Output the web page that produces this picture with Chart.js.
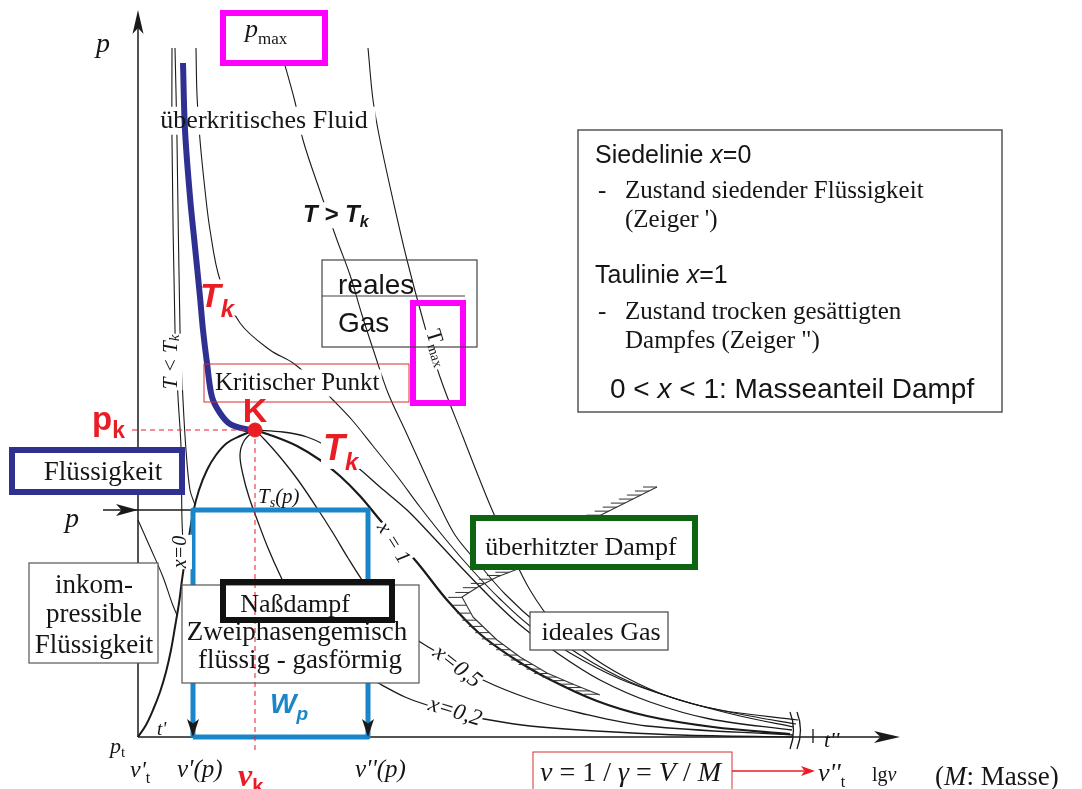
<!DOCTYPE html>
<html><head><meta charset="utf-8">
<script src="https://cdn.jsdelivr.net/npm/chart.js@4.4.1/dist/chart.umd.min.js"></script>
<style>html,body{margin:0;padding:0;background:#fff}#wrap{width:1082px;height:789px;position:relative}</style>
</head><body><div id="wrap"><canvas id="c"></canvas></div>
<script>
// ---- Data (v, p) in diagram units; origin = triple point (v't, pt) ----
const achseP = [[0,0],[0,714]];
const achseV = [[0,0],[750,0]];
const siedelinie = [[0,0],[8,12],[15,27],[22,45],[28,65],[33,87],[37,110],[41,134],[44,157],[47,177],[51,200],[55,224],[61,247],[69,267],[78,282],[89,294],[102,301],[117,307]];
const taulinie = [[117,307],[135,301],[159,291],[182,277],[202,261],[222,241],[242,217],[262,194],[282,171],[309,137],[342,103],[375,79],[409,59],[459,36],[509,21],[575,10],[652,3]];
const kritIsoLinks = [[45,674],[47,607],[52,540],[57,490],[62,440],[65,407],[69,374],[74,340],[82,324],[92,313],[107,308],[117,307]];
const kritIsoRechts = [[117,307],[145,305],[169,300],[192,289],[219,270],[242,250],[269,227],[295,200],[322,171],[352,140],[382,112],[422,82],[462,57],[512,35],[572,18],[654,7]];
const isoT2 = [[58,689],[59,642],[62,597],[67,547],[72,507],[82,457],[102,414],[132,387],[155,374],[177,355],[195,337],[214,317],[235,291],[259,261],[282,230],[309,196],[335,166],[362,138],[392,111],[432,84],[482,58],[542,37],[602,21],[656,10]];
const isoT3 = [[142,689],[157,635],[165,597],[184,540],[199,497],[212,462],[224,422],[237,382],[250,344],[267,307],[282,274],[299,237],[317,202],[340,174],[367,143],[402,111],[442,82],[492,55],[552,34],[612,21],[658,13]];
const isoTmax = [[230,689],[235,637],[242,597],[255,537],[269,477],[285,417],[302,360],[325,300],[352,232],[372,187],[392,147],[417,112],[447,85],[487,60],[532,40],[582,27],[660,17]];
const fluessig1 = [[34,689],[34,597],[37,407],[40,340],[43,290],[44,217],[46,175]];
const fluessig2 = [[37,689],[39,597],[42,407],[45,337],[48,287],[52,247],[57,232]];
const fluessig3 = [[0,217],[12,190],[25,160],[34,134],[39,122]];
const dampfX02 = [[117,307],[106,296],[102,282],[105,262],[111,240],[120,215],[130,189],[142,162],[162,122],[192,87],[222,65],[242,53],[267,40],[289,32],[317,24],[352,17],[392,11],[442,7],[542,2],[655,0]];
const dampfX05 = [[117,307],[127,297],[142,280],[160,257],[179,229],[195,204],[210,179],[224,157],[247,125],[272,102],[292,89],[317,74],[345,57],[392,38],[442,24],[509,11],[655,2]];
const idealGrenze = [[519,250],[489,235],[459,220],[422,195],[385,170],[359,160],[340,150],[324,140],[335,120],[359,97],[382,80],[409,64],[437,52],[462,42]];
const arbeitWp = [[55,0],[55,227],[230,227],[230,0],[55,0]];
const druckLinie = [[-35,227],[55,227]];
const pkStrich = [[-6,307],[117,307]];
const vkStrich = [[117,307],[117,-13]];
const kritPunkt = [[117,307]];
const formelPfeil = [[594,-34],[666,-34]];

// ---- styles ----
const RED = '#ea1d25', NAVY = '#2e3192', LBLUE = '#1a86c8', GREEN = '#0f6414', MAG = '#ff00ff', INK = '#1a1a1a';
const SER = '"Liberation Serif","Times New Roman",serif';
const SAN = '"Liberation Sans",Arial,sans-serif';
const N = (f,s) => `${s}px ${f}`, I = (f,s) => `italic ${s}px ${f}`, B = (f,s) => `bold ${s}px ${f}`, BI = (f,s) => `italic bold ${s}px ${f}`;

// ---- boxes: [x1,y1,x2,y2] in diagram units ----
const kaesten = [
  {r:[85,674,187,724], c:MAG, w:6, fill:true},
  {r:[275,334,325,434], c:MAG, w:6},
  {r:[184,390,339,477], c:'#444', w:1.2, inner:[184,441,327]},
  {r:[66,335,271,373], c:'#d83030', w:1},
  {r:[440,325,864,607], c:'#555', w:1.5, fill:true},
  {r:[-126,245,44,287], c:NAVY, w:6, fill:true},
  {r:[-109,74,20,174], c:'#555', w:1.2, fill:true},
  {r:[44,54,281,152], c:'#555', w:1.2, fill:true},
  {r:[85,117,254,155], c:'#111', w:6, fill:true},
  {r:[335,170,557,219], c:GREEN, w:6, fill:true},
  {r:[392,87,530,125], c:'#444', w:1.2, fill:true},
  {r:[395,-60,594,-15], c:'#d83030', w:1, fill:true}
];

// ---- labels ----
const beschriftungen = [
  {at:[-35,685], align:'center', run:[['p',I(SER,28)]]},
  {at:[107,700], run:[['p',I(SER,26)],['max',N(SER,17),7]]},
  {at:[126,609], align:'center', bg:8, run:[['überkritisches Fluid',N(SER,26)]]},
  {at:[165,515], bg:3, run:[['T > T',BI(SAN,24)],['k',BI(SAN,16),5]]},
  {at:[200,443], run:[['reales',N(SAN,28)]]},
  {at:[200,405], run:[['Gas',N(SAN,28)]]},
  {at:[299,389], rot:73, mid:true, align:'center', bg:2, run:[['T',N(SER,22)],['max',N(SER,14),5]]},
  {at:[457,574], run:[['Siedelinie ',N(SAN,25)],['x',I(SAN,25)],['=0',N(SAN,25)]]},
  {at:[460,539], run:[['-',N(SER,25)]]},
  {at:[487,539], run:[['Zustand siedender Flüssigkeit',N(SER,25)]]},
  {at:[487,510], run:[["(Zeiger ')",N(SER,25)]]},
  {at:[457,454], run:[['Taulinie ',N(SAN,25)],['x',I(SAN,25)],['=1',N(SAN,25)]]},
  {at:[460,418], run:[['-',N(SER,25)]]},
  {at:[487,418], run:[['Zustand trocken gesättigten',N(SER,25)]]},
  {at:[487,389], run:[['Dampfes (Zeiger ")',N(SER,25)]]},
  {at:[472,339], run:[['0 < ',N(SAN,28)],['x',I(SAN,28)],[' < 1: Masseanteil Dampf',N(SAN,28)]]},
  {at:[77,347], bg:2, run:[['Kritischer Punkt',N(SER,25)]]},
  {at:[117,315], align:'center', run:[['K',B(SAN,34),0,RED]]},
  {at:[-46,307], run:[['p',B(SAN,33),0,RED],['k',B(SAN,23),8,RED]]},
  {at:[62,430], bg:2, run:[['T',BI(SAN,34),0,RED],['k',BI(SAN,24),10,RED]]},
  {at:[185,277], bg:2, run:[['T',BI(SAN,36),0,RED],['k',BI(SAN,24),10,RED]]},
  {at:[33,375], rot:-90, mid:true, align:'center', bg:1, run:[['T < T',I(SER,21)],['k',I(SER,15),4]]},
  {at:[43,185], rot:-90, mid:true, align:'center', bg:1, run:[['x=0',I(SER,20)]]},
  {at:[120,234], run:[['T',I(SER,21)],['s',I(SER,14),4],['(p)',I(SER,21)]]},
  {at:[255,194], rot:58, mid:true, align:'center', bg:1, run:[['x = 1',I(SER,21)]]},
  {at:[319,70], rot:38, mid:true, align:'center', bg:1, run:[['x=0,5',I(SER,23)]]},
  {at:[317,25], rot:17, mid:true, align:'center', bg:1, run:[['x=0,2',I(SER,23)]]},
  {at:[-35,257], align:'center', run:[['Flüssigkeit',N(SER,27)]]},
  {at:[-66,210], align:'center', run:[['p',I(SER,28)]]},
  {at:[-44,144], align:'center', run:[['inkom-',N(SER,27)]]},
  {at:[-44,115], align:'center', run:[['pressible',N(SER,27)]]},
  {at:[-44,84], align:'center', run:[['Flüssigkeit',N(SER,27)]]},
  {at:[157,125], align:'center', run:[['Naßdampf',N(SER,26)]]},
  {at:[159,97], align:'center', run:[['Zweiphasengemisch',N(SER,27)]]},
  {at:[162,69], align:'center', run:[['flüssig - gasförmig',N(SER,27)]]},
  {at:[132,24], run:[['W',BI(SAN,28),0,LBLUE],['p',BI(SAN,19),7,LBLUE]]},
  {at:[443,182], align:'center', run:[['überhitzter Dampf',N(SER,26)]]},
  {at:[463,97], align:'center', run:[['ideales Gas',N(SER,26)]]},
  {at:[19,2], run:[["t'",I(SER,19)]]},
  {at:[686,-10], run:[["t''",I(SER,22)]]},
  {at:[-28,-16], run:[['p',I(SER,22)],['t',N(SER,15),4]]},
  {at:[-8,-40], run:[["v'",I(SER,24)],['t',N(SER,16),6]]},
  {at:[39,-40], run:[["v'(p)",I(SER,25)]]},
  {at:[100,-49], run:[['v',BI(SER,32),0,RED],['k',B(SAN,20),7,RED]]},
  {at:[217,-40], run:[["v''(p)",I(SER,25)]]},
  {at:[402,-44], run:[['v',I(SER,28)],[' = 1 / ',N(SER,28)],['γ',I(SER,28)],[' = ',N(SER,28)],['V',I(SER,28)],[' / ',N(SER,28)],['M',I(SER,28)]]},
  {at:[680,-44], run:[["v''",I(SER,26)],['t',N(SER,16),6]]},
  {at:[734,-44], run:[['lg',N(SER,20)],['v',I(SER,20)]]},
  {at:[797,-48], run:[['(',N(SER,27)],['M',I(SER,27)],[': Masse)',N(SER,27)]]}
];

const xy = a => a.map(([x,y]) => ({x, y}));
function linie(arr, color, width, order, extra) {
  return Object.assign({data: xy(arr), showLine: true, borderColor: color, backgroundColor: color,
    borderWidth: width, pointRadius: 0, tension: 0.35, fill: false, order: order}, extra || {});
}

function drawLabel(ctx, chart, L, mode) {
  const px = chart.scales.x.getPixelForValue(L.at[0]);
  const py = chart.scales.y.getPixelForValue(L.at[1]);
  ctx.save();
  ctx.translate(px, py);
  if (L.rot) ctx.rotate(L.rot * Math.PI / 180);
  ctx.textBaseline = L.mid ? 'middle' : 'alphabetic';
  let w = 0;
  for (const r of L.run) { ctx.font = r[1]; w += ctx.measureText(r[0]).width; }
  let x = L.align === 'center' ? -w / 2 : (L.align === 'right' ? -w : 0);
  const size = parseFloat(L.run[0][1].match(/(\d+(\.\d+)?)px/)[1]);
  if (mode === 'bg') {
    if (L.bg) {
      ctx.fillStyle = '#fff';
      const top = L.mid ? -size * 0.5 : -size * 0.78;
      ctx.fillRect(x - L.bg, top - 1, w + 2 * L.bg, size + 2);
    }
  } else {
    for (const r of L.run) {
      ctx.font = r[1];
      ctx.fillStyle = r[3] || '#151515';
      ctx.fillText(r[0], x, r[2] || 0);
      x += ctx.measureText(r[0]).width;
    }
  }
  ctx.restore();
}

function rectPx(chart, r) {
  const X = v => chart.scales.x.getPixelForValue(v), Y = p => chart.scales.y.getPixelForValue(p);
  const x1 = X(r[0]), x2 = X(r[2]), y1 = Y(r[3]), y2 = Y(r[1]);
  return [x1, y1, x2 - x1, y2 - y1];
}

function arrow(ctx, tx, ty, dir, len, hw, color) {
  ctx.save();
  ctx.translate(tx, ty);
  ctx.rotate(dir);
  ctx.fillStyle = color;
  ctx.beginPath();
  ctx.moveTo(0, 0);
  ctx.lineTo(-len, -hw);
  ctx.lineTo(-len * 0.75, 0);
  ctx.lineTo(-len, hw);
  ctx.closePath();
  ctx.fill();
  ctx.restore();
}

function drawMasks(chart) {
  const ctx = chart.ctx;
  const idx = chart.data.datasets.findIndex(d => d.hatch);
  const pts = chart.getDatasetMeta(idx).data;
  ctx.save();
  ctx.strokeStyle = '#333'; ctx.lineWidth = 1;
  let carry = 0;
  for (let i = 0; i < pts.length - 1; i++) {
    const a = pts[i], b = pts[i + 1];
    const L = Math.hypot(b.x - a.x, b.y - a.y);
    let s = carry;
    while (s < L) {
      const t = s / L, x = a.x + (b.x - a.x) * t, y = a.y + (b.y - a.y) * t;
      ctx.beginPath(); ctx.moveTo(x, y); ctx.lineTo(x - 14, y); ctx.stroke();
      s += 9;
    }
    carry = s - L;
  }
  ctx.restore();
  ctx.save();
  ctx.fillStyle = '#fff';
  for (const k of kaesten) if (k.fill) { const [x, y, w, h] = rectPx(chart, k.r); ctx.fillRect(x, y, w, h); }
  ctx.restore();
  for (const L of beschriftungen) drawLabel(ctx, chart, L, 'bg');
}

function drawOverlay(chart) {
  const ctx = chart.ctx;
  const X = v => chart.scales.x.getPixelForValue(v), Y = p => chart.scales.y.getPixelForValue(p);
  ctx.save();
  for (const k of kaesten) {
    const [x, y, w, h] = rectPx(chart, k.r);
    ctx.strokeStyle = k.c; ctx.lineWidth = k.w;
    ctx.strokeRect(x, y, w, h);
    if (k.inner) {
      ctx.lineWidth = 1.2;
      ctx.beginPath(); ctx.moveTo(X(k.inner[0]), Y(k.inner[1])); ctx.lineTo(X(k.inner[2]), Y(k.inner[1])); ctx.stroke();
    }
  }
  ctx.restore();
  for (const L of beschriftungen) drawLabel(ctx, chart, L, 'fg');
  arrow(ctx, X(0), Y(727), -Math.PI / 2, 24, 5.5, INK);
  arrow(ctx, X(762), Y(0), 0, 26, 6, INK);
  arrow(ctx, X(0), Y(227), 0, 22, 6, INK);
  arrow(ctx, X(55), Y(0), Math.PI / 2, 18, 6, INK);
  arrow(ctx, X(230), Y(0), Math.PI / 2, 18, 6, INK);
  arrow(ctx, X(677), Y(-34), 0, 14, 5, RED);
  ctx.save();
  ctx.strokeStyle = INK; ctx.lineWidth = 1.3;
  for (const bx of [654, 661]) {
    ctx.beginPath();
    ctx.moveTo(X(bx - 2), Y(25));
    ctx.quadraticCurveTo(X(bx + 5), Y(7), X(bx - 2), Y(-12));
    ctx.stroke();
  }
  ctx.beginPath(); ctx.moveTo(X(675), Y(8)); ctx.lineTo(X(675), Y(-6)); ctx.stroke();
  ctx.restore();
}

const diagrammPlugin = {
  id: 'diagramm',
  beforeDatasetsDraw(chart) { chart.$masked = false; },
  beforeDatasetDraw(chart, args) {
    const ds = chart.data.datasets[args.index];
    if (ds.layer === 'top' && !chart.$masked) { chart.$masked = true; drawMasks(chart); }
  },
  afterDatasetsDraw(chart) { drawOverlay(chart); }
};

new Chart(document.getElementById('c'), {
  type: 'scatter',
  data: { datasets: [
    linie(achseP, INK, 1.5, 6, {tension: 0}),
    linie(achseV, INK, 1.5, 6, {tension: 0}),
    linie(siedelinie, INK, 2, 5),
    linie(taulinie, INK, 2.2, 5),
    linie(kritIsoRechts, INK, 1.3, 5),
    linie(isoT2, INK, 1.1, 5),
    linie(isoT3, INK, 1.1, 5),
    linie(isoTmax, INK, 1.1, 5),
    linie(fluessig1, INK, 1.1, 5),
    linie(fluessig2, INK, 1.1, 5),
    linie(fluessig3, INK, 1.1, 5),
    linie(dampfX02, INK, 1.3, 5),
    linie(dampfX05, INK, 1.3, 5),
    linie(idealGrenze, '#333', 1.1, 5, {tension: 0, hatch: true}),
    linie(druckLinie, INK, 1.5, 4, {tension: 0}),
    linie(arbeitWp, LBLUE, 5, 3, {tension: 0}),
    linie(pkStrich, RED, 1, 1, {tension: 0, borderDash: [5, 4], layer: 'top'}),
    linie(vkStrich, RED, 1, 1, {tension: 0, borderDash: [5, 4], layer: 'top'}),
    linie(kritIsoLinks, NAVY, 6, 1, {layer: 'top'}),
    linie(formelPfeil, RED, 1.5, 1, {tension: 0, layer: 'top'}),
    {data: xy(kritPunkt), pointRadius: 7, pointBackgroundColor: RED, pointBorderColor: RED, showLine: false, order: 0, layer: 'top'}
  ]},
  options: {
    responsive: true, maintainAspectRatio: false, animation: false, events: [],
    layout: {padding: 0, autoPadding: false},
    plugins: {legend: {display: false}, tooltip: {enabled: false}},
    elements: {line: {borderCapStyle: 'butt', borderJoinStyle: 'round'}},
    scales: {
      x: {type: 'linear', min: -138, max: 944, display: false},
      y: {type: 'linear', min: -52, max: 737, display: false}
    }
  },
  plugins: [diagrammPlugin]
});
</script>
</body></html>
